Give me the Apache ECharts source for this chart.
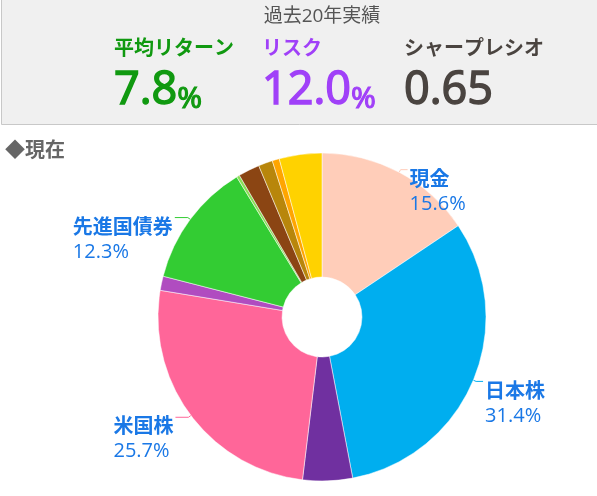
<!DOCTYPE html>
<html>
<head>
<meta charset="utf-8">
<script src="https://cdn.jsdelivr.net/npm/echarts@6/dist/echarts.min.js"></script>
<style>
html,body{margin:0;padding:0;background:#fff;}
#c{width:597px;height:496px;}
</style>
</head>
<body>
<div id="c"></div>
<script>
// ---- data ----
var headerTitle = '過去20年実績';
var metricNames = ['平均リターン', 'リスク', 'シャープレシオ'];
var metricValues = ['7.8', '12.0', '0.65'];
var metricUnits = ['%', '%', ''];
var sectionTitle = '◆現在';

var categories = ['現金', '日本株', 'その他A', '米国株', 'その他B', '先進国債券', 'その他C', 'その他D', 'その他E', 'その他F', 'その他G'];
var shares = [15.6, 31.4, 4.9, 25.7, 1.4, 12.3, 0.3, 2.1, 1.4, 0.7, 4.2];
var labelled = [true, true, false, true, false, true, false, false, false, false, false];
var sliceColors = ['#ffcdb9', '#00aeef', '#7030a0', '#ff6699', '#b04cc0', '#33cc33', '#88dd55', '#8b4513', '#b8860b', '#ffa500', '#ffd200'];

var FONT = "'Open Sans', 'Noto Sans CJK JP', sans-serif";
var metricColors = ['#109910', '#a040f8', '#4a4440'];
var metricX = [114, 262, 404];

var chart = echarts.init(document.getElementById('c'), null, {renderer: 'canvas'});

var pieData = categories.map(function (n, i) {
  var leftSide = (i === 3 || i === 5);
  return {
    name: n,
    value: shares[i],
    itemStyle: {color: sliceColors[i]},
    label: {show: labelled[i]},
    labelLine: {show: labelled[i], length: 3, length2: leftSide ? 13 : 7}
  };
});

var graphics = [
  {type: 'rect', shape: {x: 1.5, y: -2, width: 600, height: 126.5},
   style: {fill: '#f0f0f0', stroke: '#c8c8c8', lineWidth: 1}, z: 0},
  {type: 'text', x: 322, y: 17, style: {text: headerTitle, fill: '#555', font: '19px ' + FONT, textAlign: 'center', textVerticalAlign: 'middle'}}
];
metricNames.forEach(function (n, i) {
  graphics.push({type: 'text', x: metricX[i], y: 49,
    style: {text: n, fill: metricColors[i], font: 'bold 20px ' + FONT, textAlign: 'left', textVerticalAlign: 'middle'}});
  graphics.push({type: 'text', x: metricX[i], y: 114,
    style: {
      text: '{a|' + metricValues[i] + '}' + (metricUnits[i] ? '{b|' + metricUnits[i] + '}' : ''),
      textAlign: 'left', textVerticalAlign: 'bottom',
      rich: {
        a: {fontSize: 45, fontFamily: FONT, fill: metricColors[i], lineHeight: 50, verticalAlign: 'bottom',
            stroke: metricColors[i], lineWidth: 1.5},
        b: {fontSize: 30, fontFamily: FONT, fill: metricColors[i], lineHeight: 44, verticalAlign: 'bottom',
            stroke: metricColors[i], lineWidth: 1.2}
      }
    }});
});
graphics.push({type: 'text', x: 5, y: 151,
  style: {text: sectionTitle, fill: '#666', font: 'bold 20px ' + FONT, textAlign: 'left', textVerticalAlign: 'middle'}});

chart.setOption({
  animation: false,
  graphic: graphics,
  series: [{
    type: 'pie',
    center: [322, 317],
    radius: [40, 164],
    startAngle: 90,
    clockwise: true,
    avoidLabelOverlap: false,
    itemStyle: {borderColor: '#fff', borderWidth: 0.5},
    label: {
      position: 'outside',
      formatter: function (p) { return '{n|' + p.name + '}\n{v|' + p.value.toFixed(1) + '%}'; },
      padding: [45, 0, 0, 0],
      distanceToLabelLine: 2,
      rich: {
        n: {fontSize: 20, fontWeight: 'bold', fontFamily: FONT, color: '#1a78e6', lineHeight: 24, align: 'left'},
        v: {fontSize: 20, fontFamily: FONT, color: '#1a78e6', lineHeight: 24, align: 'left'}
      }
    },
    labelLine: {length: 3, length2: 7, lineStyle: {width: 1}},
    emphasis: {disabled: true},
    data: pieData
  }]
});
</script>
</body>
</html>
